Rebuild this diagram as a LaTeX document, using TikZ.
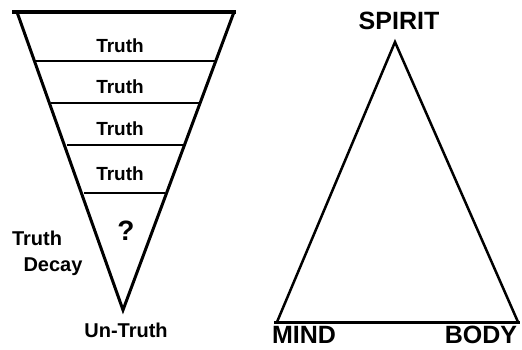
\documentclass[tikz,border=0pt]{standalone}
\usepackage{fontspec}
\setmainfont{Liberation Sans}
\begin{document}
\begin{tikzpicture}[x=1pt,y=-1pt,
  lbl/.style={font=\bfseries\fontsize{19}{21}\selectfont,inner sep=0pt},
  big/.style={font=\bfseries\fontsize{25}{27}\selectfont,inner sep=0pt},
  edge/.style={line width=3pt},
  band/.style={line width=1.8pt}]
\useasboundingbox[fill=white] (0,0) rectangle (522,349);
% inverted triangle
\coordinate (tl) at (12,12);
\coordinate (tr) at (236,12);
\coordinate (el) at (17,12);
\coordinate (er) at (234,12);
\coordinate (apex) at (123,310);
\draw[line width=4pt] (tl) -- (tr);
\draw[edge,line join=miter] (el) -- (apex) -- (er);
\coordinate (b1l) at (35,61);  \coordinate (b1r) at (216,61);
\coordinate (b2l) at (51,103); \coordinate (b2r) at (199,103);
\coordinate (b3l) at (67,145); \coordinate (b3r) at (183,145);
\coordinate (b4l) at (84,193); \coordinate (b4r) at (165,193);
\draw[band] (b1l) -- (b1r);
\draw[band] (b2l) -- (b2r);
\draw[band] (b3l) -- (b3r);
\draw[band] (b4l) -- (b4r);
\node[lbl] (t1) at (120,46) {Truth};
\node[lbl] (t2) at (120,87) {Truth};
\node[lbl] (t3) at (120,129) {Truth};
\node[lbl] (t4) at (120,174) {Truth};
\node[lbl,font=\bfseries\fontsize{28}{30}\selectfont] (q) at (126,231) {?};
\node[lbl,font=\bfseries\fontsize{20}{22}\selectfont] (td1) at (37,238) {Truth};
\node[lbl,font=\bfseries\fontsize{20}{22}\selectfont] (td2) at (53,267) {Decay};
\node[lbl,font=\bfseries\fontsize{20}{22}\selectfont] (un) at (126,330) {Un-Truth};
% triangle
\coordinate (sp) at (395,42);
\coordinate (mi) at (277,322);
\coordinate (bo) at (518,322);
\draw[line width=2.5pt] (mi) -- (sp) -- (bo);
\draw[line width=3pt] ([xshift=-3pt]mi) -- ([xshift=2pt]bo);
\node[big] (spirit) at (399,21) {SPIRIT};
\node[big] (mind) at (304,335) {MIND};
\node[big] (body) at (481,335) {BODY};
\end{tikzpicture}
\end{document}
